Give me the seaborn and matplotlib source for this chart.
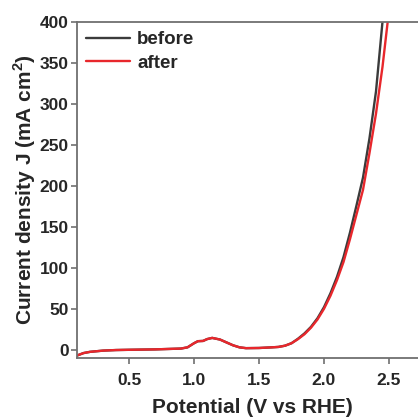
import matplotlib
matplotlib.use("Agg")
import matplotlib.pyplot as plt
import seaborn as sns
import pandas as pd

# Data
before_x = [0.10, 0.15, 0.20, 0.30, 0.40, 0.50, 0.70, 0.90, 0.95, 1.00, 1.03, 1.07, 1.10, 1.14, 1.20, 1.25, 1.30, 1.35, 1.40, 1.50, 1.60, 1.65, 1.70, 1.75, 1.80, 1.85, 1.90, 1.95, 2.00, 2.05, 2.10, 2.15, 2.20, 2.25, 2.30, 2.35, 2.40, 2.45]
before_y = [-7, -4, -2.5, -1, -0.3, 0, 0.5, 1.5, 3, 8, 10.5, 10.8, 13, 14.5, 12.5, 9, 5.5, 3, 2, 2.2, 3, 3.5, 5, 8, 13.5, 20, 28, 38.5, 52, 69, 89, 113, 143, 176, 210, 258, 315, 400]

after_x = [0.10, 0.15, 0.20, 0.30, 0.40, 0.50, 0.70, 0.90, 0.95, 1.00, 1.03, 1.07, 1.10, 1.14, 1.20, 1.25, 1.30, 1.35, 1.40, 1.50, 1.60, 1.65, 1.70, 1.75, 1.80, 1.85, 1.90, 1.95, 2.00, 2.05, 2.10, 2.15, 2.20, 2.25, 2.30, 2.35, 2.40, 2.45, 2.49]
after_y = [-7, -4, -2.5, -1, -0.3, 0, 0.5, 1.5, 3, 8, 10.5, 10.8, 13, 14.5, 12.5, 9, 5.5, 3, 2, 2.2, 3, 3.5, 5, 8, 13, 19, 27, 37, 50, 66, 85, 107, 135, 165, 195, 240, 288, 345, 400]

x_ticks = [0.5, 1.0, 1.5, 2.0, 2.5]
y_ticks = [0, 50, 100, 150, 200, 250, 300, 350, 400]

sns.set_style("ticks")
plt.rcParams["font.family"] = ["Liberation Sans", "DejaVu Sans"]
plt.rcParams["font.weight"] = "bold"
plt.rcParams["mathtext.fontset"] = "custom"
plt.rcParams["mathtext.bf"] = "Liberation Sans:bold"
plt.rcParams["mathtext.rm"] = "Liberation Sans:bold"

fig = plt.figure(figsize=(4.18, 4.17), dpi=100)
ax = fig.add_axes([77/418, 59/417, 351/418, 336.3/417])

df_b = pd.DataFrame({"x": before_x, "y": before_y})
df_a = pd.DataFrame({"x": after_x, "y": after_y})
sns.lineplot(data=df_b, x="x", y="y", ax=ax, color="#3b3b3b", lw=1.7, label="before", sort=False)
sns.lineplot(data=df_a, x="x", y="y", ax=ax, color="#e8272c", lw=1.7, label="after", sort=False)

ax.set_xlim(0.1, 2.8)
ax.set_ylim(-10, 400)
ax.set_xticks(x_ticks)
ax.set_xticklabels([f"{v:.1f}" for v in x_ticks])
ax.set_yticks(y_ticks)
ax.set_yticklabels([str(v) for v in y_ticks])

for s in ["left", "bottom", "top"]:
    ax.spines[s].set_color("#707070")
    ax.spines[s].set_linewidth(1.3)
ax.spines["right"].set_visible(False)
ax.tick_params(axis="both", direction="out", length=4, width=1.2, color="#707070",
               labelsize=12.5)
ax.tick_params(axis="y", pad=2)
ax.tick_params(axis="x", pad=7)
for lbl in ax.get_xticklabels() + ax.get_yticklabels():
    lbl.set_fontweight("bold")

ax.set_xlabel("Potential (V vs RHE)", fontsize=15, fontweight="bold", labelpad=7)
ax.set_ylabel(r"Current density J (mA cm$^\mathbf{2}$)", fontsize=15, fontweight="bold", labelpad=1)

leg = ax.legend(loc="upper left", frameon=False, fontsize=13.5, handlelength=2.3,
                handletextpad=0.4, borderaxespad=0.1, labelspacing=0.35,
                bbox_to_anchor=(0.0, 1.0))
for t in leg.get_texts():
    t.set_fontweight("bold")

fig.savefig("out.png", dpi=100)
